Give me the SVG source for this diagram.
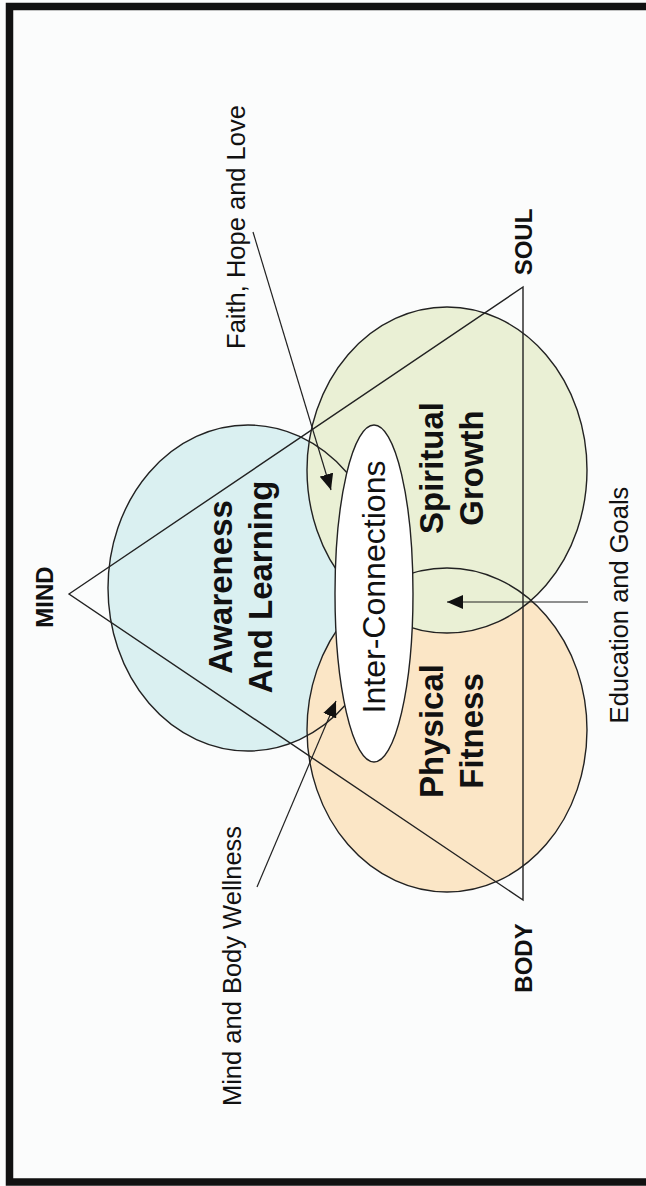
<svg xmlns="http://www.w3.org/2000/svg" width="646" height="1186" viewBox="0 0 646 1186">
<defs>
<style>
.bg{fill:#fbfcfc}
.frame{fill:none;stroke:#111;stroke-width:7.5}
.f-blue{fill:#daf0f1}
.f-orange{fill:#fbe6c6}
.f-green{fill:#eaf0d5}
.ol{fill:none;stroke:#222;stroke-width:1.4}
.inter{fill:#ffffff;stroke:#222;stroke-width:1.4}
.tri{fill:none;stroke:#222;stroke-width:1.4;stroke-linejoin:miter}
.arr{fill:none;stroke:#222;stroke-width:1.2}
.t{font-family:"Liberation Sans",Arial,sans-serif;fill:#111}
.b{font-weight:bold}
</style>
<marker id="ah" viewBox="0 0 16 14" refX="16" refY="7" markerWidth="16" markerHeight="14" markerUnits="userSpaceOnUse" orient="auto">
<path d="M0,0 L16,7 L0,14 z" fill="#111"/>
</marker>
</defs>
<rect class="bg" x="0" y="0" width="646" height="1186"/>
<rect class="frame" x="9.5" y="6.5" width="670" height="1175.5"/>

<g id="fills">
<ellipse class="f-blue" cx="248" cy="588" rx="140" ry="163"/>
<ellipse class="f-orange" cx="447" cy="730" rx="140" ry="162"/>
<ellipse class="f-green" cx="447" cy="470" rx="140" ry="163"/>
</g>

<g id="node-awareness">
<ellipse class="ol" cx="248" cy="588" rx="140" ry="163"/>
<text class="t b" font-size="33" text-anchor="middle" transform="translate(232,587) rotate(-90)"><tspan x="0" y="0">Awareness</tspan><tspan x="0" y="40">And Learning</tspan></text>
</g>
<g id="node-physical">
<ellipse class="ol" cx="447" cy="730" rx="140" ry="162"/>
<text class="t b" font-size="33" text-anchor="middle" transform="translate(443,731) rotate(-90)"><tspan x="0" y="0">Physical</tspan><tspan x="0" y="40">Fitness</tspan></text>
</g>
<g id="node-spiritual">
<ellipse class="ol" cx="447" cy="470" rx="140" ry="163"/>
<text class="t b" font-size="33" text-anchor="middle" transform="translate(443,468) rotate(-90)"><tspan x="0" y="0">Spiritual</tspan><tspan x="0" y="40">Growth</tspan></text>
</g>

<g id="triangle">
<polygon class="tri" points="69,594 523,287 523,900"/>
</g>

<g id="node-interconnections">
<ellipse class="inter" cx="374" cy="593.5" rx="39" ry="168.5"/>
<text class="t" font-size="31" text-anchor="middle" textLength="253" lengthAdjust="spacingAndGlyphs" transform="translate(385,587) rotate(-90)">Inter-Connections</text>
</g>

<g id="node-mind"><text class="t b" font-size="24" text-anchor="middle" transform="translate(53,597) rotate(-90)">MIND</text></g>
<g id="node-soul"><text class="t b" font-size="24" text-anchor="middle" transform="translate(532,242) rotate(-90)">SOUL</text></g>
<g id="node-body"><text class="t b" font-size="24" text-anchor="middle" transform="translate(532,958) rotate(-90)">BODY</text></g>

<g id="node-faith"><text class="t" font-size="25.5" text-anchor="middle" transform="translate(245,227) rotate(-90)">Faith, Hope and Love</text></g>
<g id="node-wellness"><text class="t" font-size="25.5" text-anchor="middle" transform="translate(241,966) rotate(-90)">Mind and Body Wellness</text></g>
<g id="node-education"><text class="t" font-size="25.5" text-anchor="middle" transform="translate(628,605) rotate(-90)">Education and Goals</text></g>

<g id="connectors">
<line class="arr" x1="253" y1="232" x2="331" y2="490" marker-end="url(#ah)"/>
<line class="arr" x1="257" y1="887" x2="336" y2="701" marker-end="url(#ah)"/>
<line class="arr" x1="588" y1="602" x2="447" y2="602" marker-end="url(#ah)"/>
</g>
</svg>
